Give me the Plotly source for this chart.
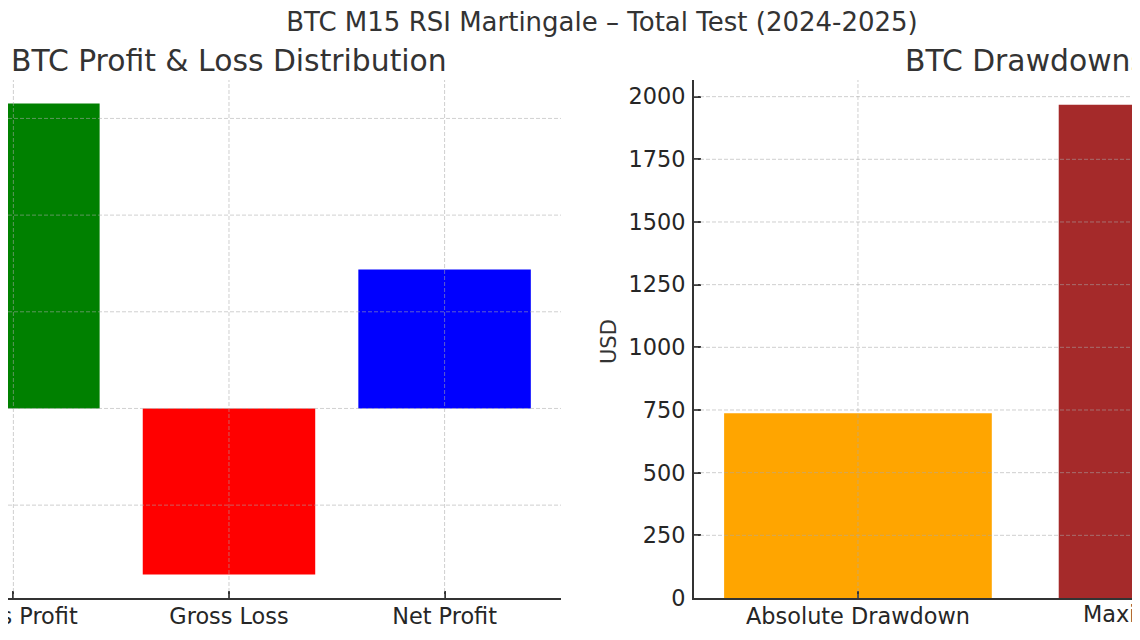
"""
BTC M15 RSI Martingale - total test summary: P&L breakdown and drawdowns,
two bar panels side by side (cropped view of the original figure).
"""
import plotly.graph_objects as go

# ---- data -------------------------------------------------------------
pnl_labels = ["Gross Profit", "Gross Loss", "Net Profit"]
pnl_values = [3154, -1717, 1437]
pnl_colors = ["#008000", "#ff0000", "#0000ff"]

dd_labels = ["Absolute Drawdown", "Maximal Drawdown"]
dd_values = [737, 1968]
dd_colors = ["#ffa500", "#a52a2a"]

pnl_ticks = [-1000, 0, 1000, 2000, 3000]
dd_ticks = [0, 250, 500, 750, 1000, 1250, 1500, 1750, 2000]

# the page body keeps its default 8px margin, so size the figure to fit
# inside the 1140x640 window without scrollbars and work in window pixels
WIN_W, WIN_H, OFF = 1140, 640, 8
W, H = WIN_W - 2 * OFF, WIN_H - 2 * OFF


def px_x(x):
    return (x - OFF) / W


def px_y(y):
    return 1 - (y - OFF) / H


FONT = "DejaVu Sans"
TEXT = "#333333"
AXIS = "#333333"
GRID = "rgba(170,170,170,0.55)"

# panel placement (window px) -- the original is a crop of a wider figure
left_dom = [0, px_x(561)]
right_dom = [px_x(694), 1]
y_dom = [px_y(598), px_y(80)]

# matplotlib-like 5% margins on the value axes
pad = 0.05 * (max(pnl_values) - min(pnl_values))
pnl_range = [min(pnl_values) - pad, max(pnl_values) + pad]
dd_range = [0, max(dd_values) * 1.05]

# left panel cropped at the left edge, right panel cropped at the right edge
x1_range = [-0.025, 2.54]
x2_range = [-0.49, 0.819]

fig = go.Figure()
fig.add_trace(go.Bar(x=pnl_labels, y=pnl_values, marker_color=pnl_colors,
                     marker_line_width=0, xaxis="x", yaxis="y", showlegend=False))
fig.add_trace(go.Bar(x=dd_labels, y=dd_values, marker_color=dd_colors,
                     marker_line_width=0, xaxis="x2", yaxis="y2", showlegend=False))

tickfont = dict(family=FONT, size=22.4, color="#262626")
common_x = dict(type="category", showgrid=False, zeroline=False, showline=True,
                linecolor=AXIS, linewidth=2, ticks="inside", ticklen=7,
                tickwidth=2, tickcolor=AXIS, tickfont=tickfont,
                ticklabelstandoff=-3, automargin=False, fixedrange=True)

fig.update_layout(
    width=W, height=H,
    margin=dict(l=0, r=0, t=0, b=0, autoexpand=False),
    paper_bgcolor="white", plot_bgcolor="white",
    bargap=0.2,
    font=dict(family=FONT, color=TEXT),
    title=dict(text="BTC M15 RSI Martingale – Total Test (2024-2025)",
               x=px_x(602), xanchor="center", y=px_y(22), yanchor="middle",
               font=dict(family=FONT, size=26, color=TEXT)),
    xaxis=dict(domain=left_dom, range=x1_range, anchor="y", **common_x),
    yaxis=dict(domain=y_dom, range=pnl_range, anchor="x", showgrid=False,
               zeroline=False, showline=False, showticklabels=False,
               ticks="", automargin=False, fixedrange=True),
    xaxis2=dict(domain=right_dom, range=x2_range, anchor="y2", **common_x),
    yaxis2=dict(domain=y_dom, range=dd_range, anchor="x2", tickvals=dd_ticks,
                showgrid=False, zeroline=False, showline=True, linecolor=AXIS,
                linewidth=2, ticks="inside", ticklen=7, tickwidth=2,
                tickcolor=AXIS, tickfont=tickfont, ticklabelstandoff=2,
                automargin=False, fixedrange=True),
)

# dashed grid drawn over the bars, as in the original
grid = dict(color=GRID, width=1, dash="4px,2px")
for v in pnl_ticks:
    fig.add_shape(type="line", xref="x domain", yref="y", x0=0, x1=1, y0=v, y1=v,
                  line=grid, layer="above")
for lab in pnl_labels:
    fig.add_shape(type="line", xref="x", yref="y domain", x0=lab, x1=lab, y0=0, y1=1,
                  line=grid, layer="above")
for v in dd_ticks[1:]:
    fig.add_shape(type="line", xref="x2 domain", yref="y2", x0=0, x1=1, y0=v, y1=v,
                  line=grid, layer="above")
fig.add_shape(type="line", xref="x2", yref="y2 domain", x0=dd_labels[0], x1=dd_labels[0],
              y0=0, y1=1, line=grid, layer="above")


def paper_x(dom, rng, val):
    return dom[0] + (val - rng[0]) / (rng[1] - rng[0]) * (dom[1] - dom[0])


# subplot titles, centred over the full (uncropped) panels
left_full = [-0.54, 2.54]
right_full = [-0.49, 1.49]
fig.add_annotation(text="BTC Profit & Loss Distribution", xref="paper", yref="paper",
                   x=paper_x(left_dom, x1_range, sum(left_full) / 2), y=px_y(60),
                   xanchor="center", yanchor="middle", showarrow=False,
                   font=dict(family=FONT, size=29.8, color=TEXT))
fig.add_annotation(text="BTC Drawdowns", xref="paper", yref="paper",
                   x=paper_x(right_dom, x2_range, sum(right_full) / 2), y=px_y(60),
                   xanchor="center", yanchor="middle", showarrow=False,
                   font=dict(family=FONT, size=29.8, color=TEXT))

# y title of the right panel
fig.add_annotation(text="USD", xref="paper", yref="paper", x=px_x(609), y=px_y(342),
                   xanchor="center", yanchor="middle", textangle=-90, showarrow=False,
                   font=dict(family=FONT, size=21, color=TEXT))

# tick label of the bar that falls outside the visible crop
fig.add_annotation(text=dd_labels[1], xref="paper", yref="paper",
                   x=paper_x(right_dom, x2_range, 1), y=px_y(614),
                   xanchor="center", yanchor="middle", showarrow=False,
                   font=tickfont)

fig.write_html("out.html")
